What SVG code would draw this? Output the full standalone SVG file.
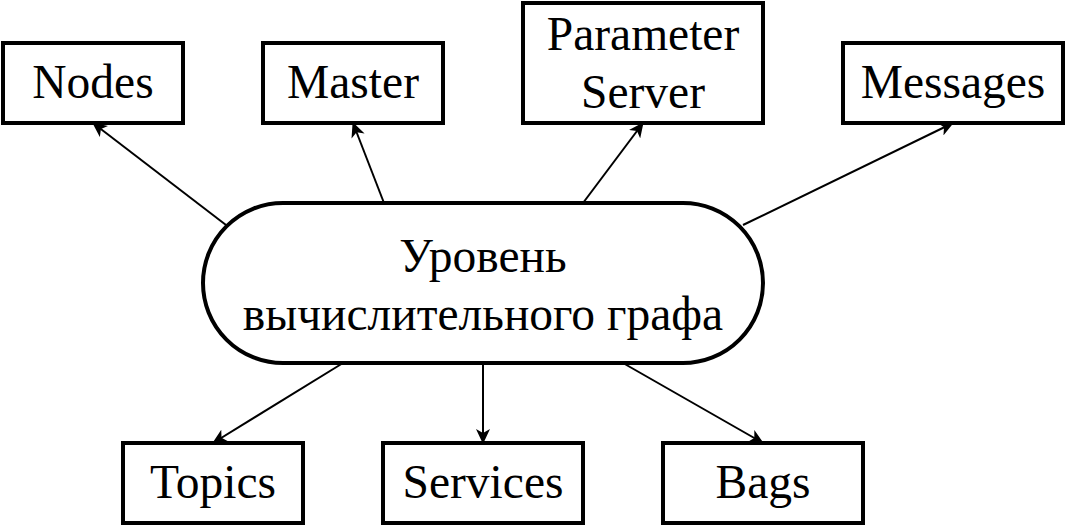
<svg xmlns="http://www.w3.org/2000/svg" width="1066" height="526" viewBox="0 0 1066 526">
<style>
.box{fill:#fff;stroke:#000;stroke-width:4}
.t{font-family:"Liberation Serif","Times New Roman",serif;font-size:47.5px;fill:#000;text-anchor:middle}
.c{stroke:#000;stroke-width:2;fill:none}
</style>
<defs>
<marker id="arr" viewBox="0 0 15 14" refX="14" refY="7" markerWidth="15" markerHeight="14" markerUnits="userSpaceOnUse" orient="auto">
<path d="M0,0 L15,7 L0,14 L4,7 Z" fill="#000"/>
</marker>
</defs>
<rect width="1066" height="526" fill="#fff"/>
<g id="connectors">
<line class="c" x1="226" y1="225" x2="93" y2="123" marker-end="url(#arr)"/>
<line class="c" x1="384" y1="203" x2="353" y2="123" marker-end="url(#arr)"/>
<line class="c" x1="583" y1="203" x2="643" y2="123" marker-end="url(#arr)"/>
<line class="c" x1="743" y1="225" x2="953" y2="123" marker-end="url(#arr)"/>
<line class="c" x1="343" y1="363" x2="213" y2="443" marker-end="url(#arr)"/>
<line class="c" x1="483" y1="363" x2="483" y2="443" marker-end="url(#arr)"/>
<line class="c" x1="623" y1="363" x2="763" y2="443" marker-end="url(#arr)"/>
</g>
<g id="center">
<rect class="box" x="203" y="203" width="560" height="160" rx="80" ry="80"/>
<text class="t" x="483" y="272">Уровень</text>
<text class="t" x="483" y="330">вычислительного графа</text>
</g>
<g id="nodes"><rect class="box" x="3" y="43" width="180" height="80"/><text class="t" x="93" y="98">Nodes</text></g>
<g id="master"><rect class="box" x="263" y="43" width="180" height="80"/><text class="t" x="353" y="98">Master</text></g>
<g id="param"><rect class="box" x="523" y="3" width="240" height="120"/><text class="t" x="643" y="50">Parameter</text><text class="t" x="643" y="108">Server</text></g>
<g id="messages"><rect class="box" x="843" y="43" width="220" height="80"/><text class="t" x="953" y="98">Messages</text></g>
<g id="topics"><rect class="box" x="123" y="443" width="180" height="80"/><text class="t" x="213" y="498">Topics</text></g>
<g id="services"><rect class="box" x="383" y="443" width="200" height="80"/><text class="t" x="483" y="498">Services</text></g>
<g id="bags"><rect class="box" x="663" y="443" width="200" height="80"/><text class="t" x="763" y="498">Bags</text></g>
</svg>
